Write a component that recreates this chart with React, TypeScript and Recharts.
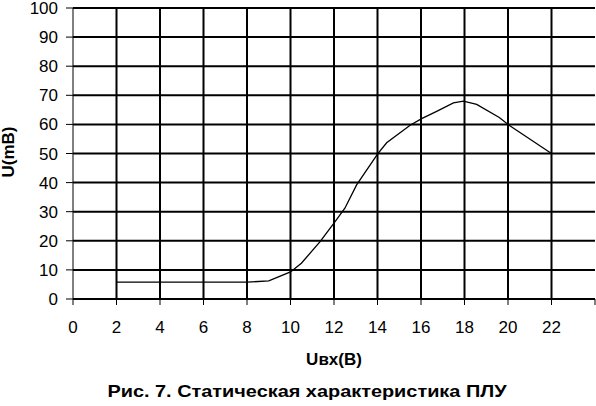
import React from "react";
import { LineChart, Line, XAxis, YAxis, CartesianGrid, ReferenceLine } from "recharts";

const uIn = [2, 4, 6, 8, 9, 10, 10.5, 11.36, 12.05, 12.5, 13.04, 14, 14.42, 15.5, 16.03, 16.72, 17.49, 17.95, 18.56, 19.6, 20.05, 22];
const uOut = [5.8, 5.8, 5.8, 5.8, 6.2, 9.3, 12.3, 19.7, 26.6, 31.2, 39.2, 49.8, 53.7, 59.7, 62, 64.5, 67.4, 68, 66.9, 62.4, 59.7, 50];
const xTicks = [0, 2, 4, 6, 8, 10, 12, 14, 16, 18, 20, 22, 24];
const yTicks = [0, 10, 20, 30, 40, 50, 60, 70, 80, 90, 100];
const gridX = [2, 4, 6, 8, 10, 12, 14, 16, 18, 20, 22];

const xTitle = "Uвх(В)";
const yTitle = "U(mB)";
const caption = "Рис. 7. Статическая характеристика ПЛУ";

const data = uIn.map((x, i) => ({ x, y: uOut[i] }));

const FONT = "'Liberation Sans', Arial, sans-serif";

export default function App() {
  return (
    <div style={{ position: "absolute", left: 0, top: 0, width: 596, height: 406, background: "#fff", fontFamily: FONT }}>
      <LineChart width={596} height={406} data={data} margin={{ top: 8, right: 1, left: 0, bottom: 0 }}>
        <CartesianGrid vertical={false} stroke="#000" strokeWidth={2} />
        {gridX.map((gx) => (
          <ReferenceLine key={gx} x={gx} stroke="#000" strokeWidth={2} />
        ))}
        <XAxis
          dataKey="x"
          type="number"
          domain={[0, 24]}
          ticks={xTicks}
          interval={0}
          height={107}
          stroke="#000"
          tickSize={6}
          tickMargin={16}
          tickFormatter={(v: number) => (v === 24 ? "" : String(v))}
          tick={{ fill: "#000", fontSize: 17, fontFamily: FONT }}
        />
        <YAxis
          type="number"
          domain={[0, 100]}
          ticks={yTicks}
          interval={0}
          width={73}
          stroke="#000"
          tickSize={7}
          tickMargin={8}
          tick={{ fill: "#000", fontSize: 17, fontFamily: FONT }}
        />
        <Line
          dataKey="y"
          type="linear"
          stroke="#000"
          strokeWidth={1.3}
          dot={false}
          isAnimationActive={false}
        />
      </LineChart>
      <div style={{ position: "absolute", left: 234, width: 200, top: 350, textAlign: "center", fontWeight: "bold", fontSize: 17, lineHeight: "20px" }}>
        {xTitle}
      </div>
      <div style={{ position: "absolute", left: 9, top: 152, width: 0, height: 0 }}>
        <div style={{ position: "absolute", left: -50, top: -10, width: 100, textAlign: "center", fontWeight: "bold", fontSize: 17, lineHeight: "20px", transform: "rotate(-90deg)" }}>
          {yTitle}
        </div>
      </div>
      <div style={{ position: "absolute", left: 0, width: 614, top: 382, textAlign: "center", fontWeight: "bold", fontSize: 17, lineHeight: "20px", whiteSpace: "nowrap", transform: "scaleX(1.17)", transformOrigin: "307px 0" }}>
        {caption}
      </div>
    </div>
  );
}
